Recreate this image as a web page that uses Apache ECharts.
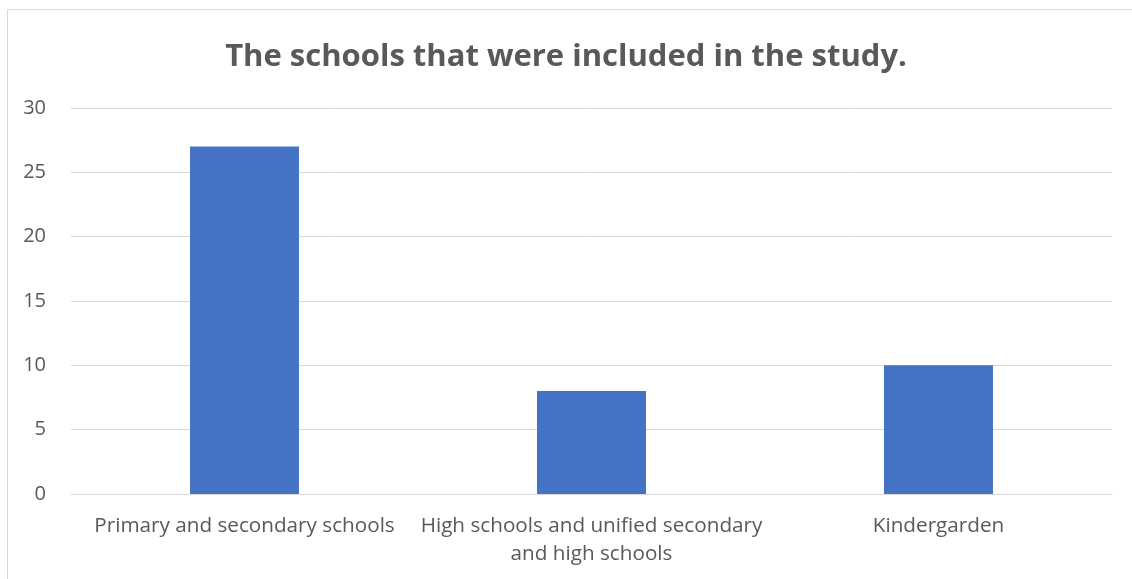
<!DOCTYPE html>
<html>
<head>
<meta charset="utf-8">
<script src="https://cdn.jsdelivr.net/npm/echarts@6/dist/echarts.min.js"></script>
<style>
  html, body { margin: 0; padding: 0; background: #ffffff; }
  #chart { width: 1132px; height: 579px; }
</style>
</head>
<body>
<div id="chart"></div>
<script>
// School types and how many of each took part
const categories = [
  'Primary and secondary schools',
  'High schools and unified secondary\nand high schools',
  'Kindergarden'
];
const schoolCounts = [27, 8, 10];
const yTicks = { min: 0, max: 30, interval: 5 };
const chartTitle = 'The schools that were included in the study.';

const textFont = '"Open Sans", "Noto Sans", sans-serif';
const chart = echarts.init(document.getElementById('chart'), null, { renderer: 'canvas' });

chart.setOption({
  animation: false,
  backgroundColor: '#ffffff',
  graphic: [{
    type: 'rect',
    shape: { x: 7.5, y: 9.5, width: 1200, height: 700 },
    style: { fill: 'none', stroke: '#d9d9d9', lineWidth: 1 },
    silent: true
  }],
  title: {
    text: chartTitle,
    left: 'center',
    top: 37,
    textStyle: {
      fontFamily: textFont,
      fontWeight: 'bold',
      fontSize: 31,
      color: '#595959'
    }
  },
  grid: { left: 71, right: 20, top: 108, bottom: 85 },
  xAxis: {
    type: 'category',
    data: categories,
    axisLine: { show: true, lineStyle: { color: '#d9d9d9', width: 1 } },
    axisTick: { show: false },
    axisLabel: {
      interval: 0,
      margin: 18,
      color: '#595959',
      fontFamily: textFont,
      fontSize: 20.7,
      lineHeight: 28,
      align: 'center'
    }
  },
  yAxis: {
    type: 'value',
    min: yTicks.min,
    max: yTicks.max,
    interval: yTicks.interval,
    axisLine: { show: false },
    axisTick: { show: false },
    splitLine: { lineStyle: { color: '#d9d9d9', width: 1 } },
    axisLabel: {
      margin: 25,
      color: '#595959',
      fontFamily: textFont,
      fontSize: 20
    }
  },
  series: [{
    type: 'bar',
    data: schoolCounts,
    barWidth: '31.4%',
    itemStyle: { color: '#4472c4' }
  }]
});
</script>
</body>
</html>
